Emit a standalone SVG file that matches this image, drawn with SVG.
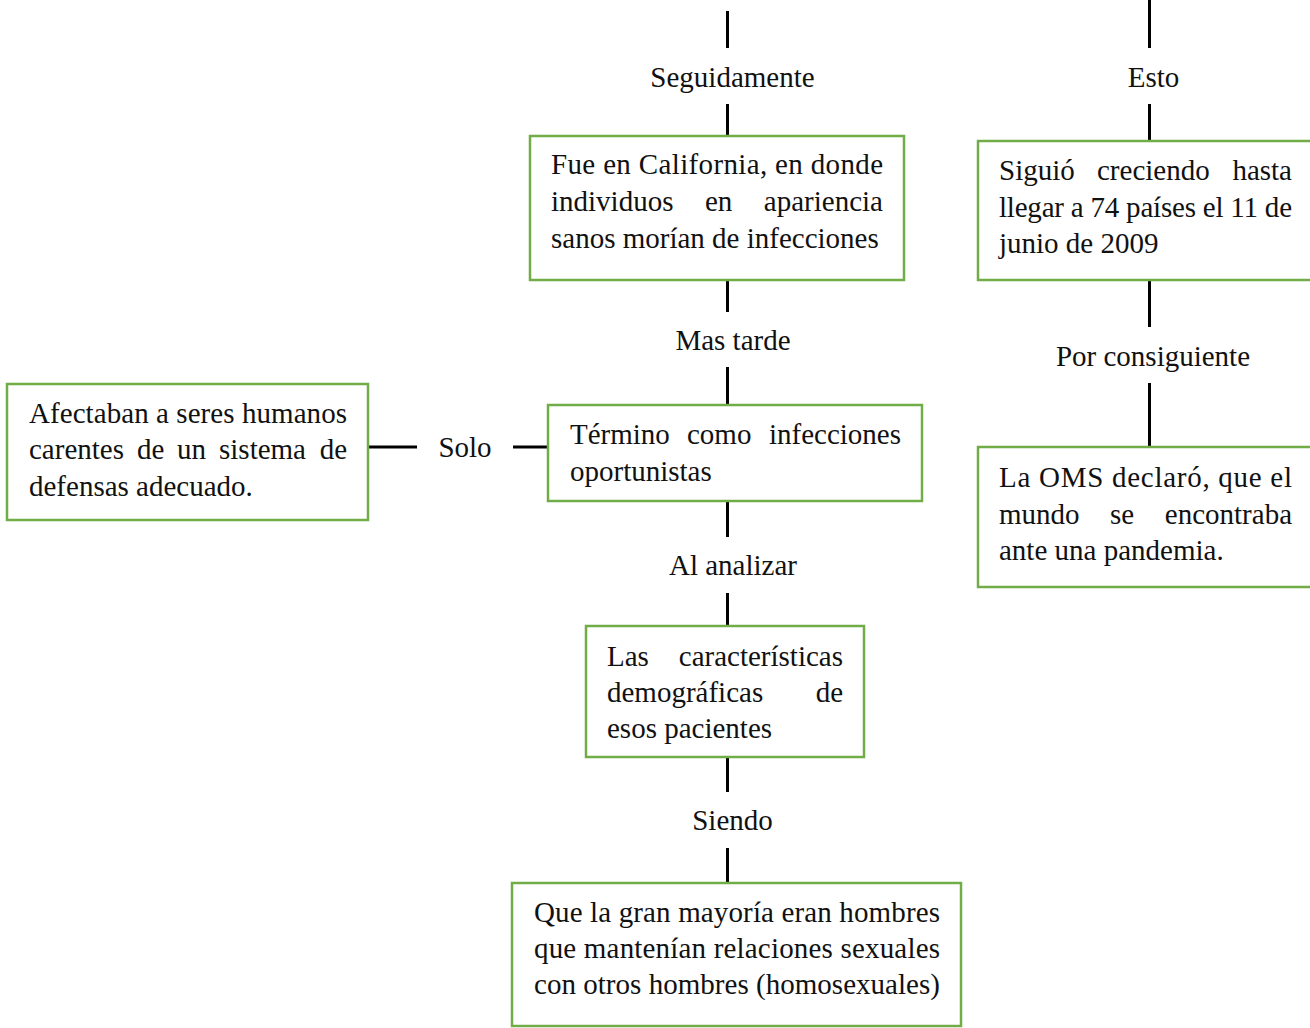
<svg xmlns="http://www.w3.org/2000/svg" width="1310" height="1028" viewBox="0 0 1310 1028">
<style>
.box{fill:#ffffff;stroke:#70AD47;stroke-width:2.5}
.ln{stroke:#000000;stroke-width:3;fill:none}
text{font-family:"Liberation Serif","Times New Roman",serif;font-size:29px;fill:#111111}
.lbl{text-anchor:middle}
.end{text-anchor:end}
</style>
<rect x="0" y="0" width="1310" height="1028" fill="#ffffff"/>
<g id="connectors">
<line class="ln" x1="727.5" y1="11" x2="727.5" y2="48"/>
<line class="ln" x1="727.5" y1="104" x2="727.5" y2="136"/>
<line class="ln" x1="727.5" y1="280" x2="727.5" y2="312"/>
<line class="ln" x1="727.5" y1="367" x2="727.5" y2="405"/>
<line class="ln" x1="727.5" y1="501" x2="727.5" y2="537"/>
<line class="ln" x1="727.5" y1="593" x2="727.5" y2="626"/>
<line class="ln" x1="727.5" y1="757" x2="727.5" y2="792"/>
<line class="ln" x1="727.5" y1="848" x2="727.5" y2="883"/>
<line class="ln" x1="1149.5" y1="0" x2="1149.5" y2="48"/>
<line class="ln" x1="1149.5" y1="104" x2="1149.5" y2="141"/>
<line class="ln" x1="1149.5" y1="280" x2="1149.5" y2="327"/>
<line class="ln" x1="1149.5" y1="383" x2="1149.5" y2="447"/>
<line class="ln" x1="368" y1="447" x2="417" y2="447"/>
<line class="ln" x1="513" y1="447" x2="548" y2="447"/>
<text class="lbl" x="732.5" y="87">Seguidamente</text>
<text class="lbl" x="1153.5" y="87">Esto</text>
<text class="lbl" x="733" y="350">Mas tarde</text>
<text class="lbl" x="1153" y="366">Por consiguiente</text>
<text class="lbl" x="465" y="457">Solo</text>
<text class="lbl" x="733" y="575">Al analizar</text>
<text class="lbl" x="732.5" y="830">Siendo</text>
</g>
<g id="node-california">
<rect class="box" x="530" y="136" width="374" height="144"/>
<text x="551" y="174" textLength="332" lengthAdjust="spacing">Fue en California, en donde</text>
<text x="551" y="211">individuos</text>
<text x="705" y="211">en</text>
<text class="end" x="883" y="211">apariencia</text>
<text x="551" y="248">sanos morían de infecciones</text>
</g>
<g id="node-siguio">
<rect class="box" x="978" y="141" width="340" height="139"/>
<text x="999" y="180">Siguió</text>
<text x="1097" y="180">creciendo</text>
<text class="end" x="1292" y="180">hasta</text>
<text x="999" y="217" textLength="293" lengthAdjust="spacing">llegar a 74 países el 11 de</text>
<text x="999" y="253">junio de 2009</text>
</g>
<g id="node-oms">
<rect class="box" x="978" y="447" width="340" height="140"/>
<text x="999" y="487" textLength="293" lengthAdjust="spacing">La OMS declaró, que el</text>
<text x="999" y="524">mundo</text>
<text x="1110" y="524">se</text>
<text class="end" x="1292" y="524">encontraba</text>
<text x="999" y="560">ante una pandemia.</text>
</g>
<g id="node-afectaban">
<rect class="box" x="7" y="384" width="361" height="136"/>
<text x="29" y="423" textLength="318" lengthAdjust="spacing">Afectaban a seres humanos</text>
<text x="29" y="459">carentes</text>
<text x="137" y="459">de</text>
<text x="177" y="459">un</text>
<text x="219" y="459">sistema</text>
<text class="end" x="347" y="459">de</text>
<text x="29" y="496">defensas adecuado.</text>
</g>
<g id="node-termino">
<rect class="box" x="548" y="405" width="374" height="96"/>
<text x="570" y="444">Término</text>
<text x="687" y="444">como</text>
<text class="end" x="901" y="444">infecciones</text>
<text x="570" y="481">oportunistas</text>
</g>
<g id="node-caracteristicas">
<rect class="box" x="586" y="626" width="278" height="131"/>
<text x="607" y="666">Las</text>
<text class="end" x="843" y="666">características</text>
<text x="607" y="702">demográficas</text>
<text class="end" x="843" y="702">de</text>
<text x="607" y="738">esos pacientes</text>
</g>
<g id="node-hombres">
<rect class="box" x="512" y="883" width="449" height="143"/>
<text x="534" y="922" textLength="406" lengthAdjust="spacing">Que la gran mayoría eran hombres</text>
<text x="534" y="958" textLength="406" lengthAdjust="spacing">que mantenían relaciones sexuales</text>
<text x="534" y="994" textLength="406" lengthAdjust="spacing">con otros hombres (homosexuales)</text>
</g>
</svg>
